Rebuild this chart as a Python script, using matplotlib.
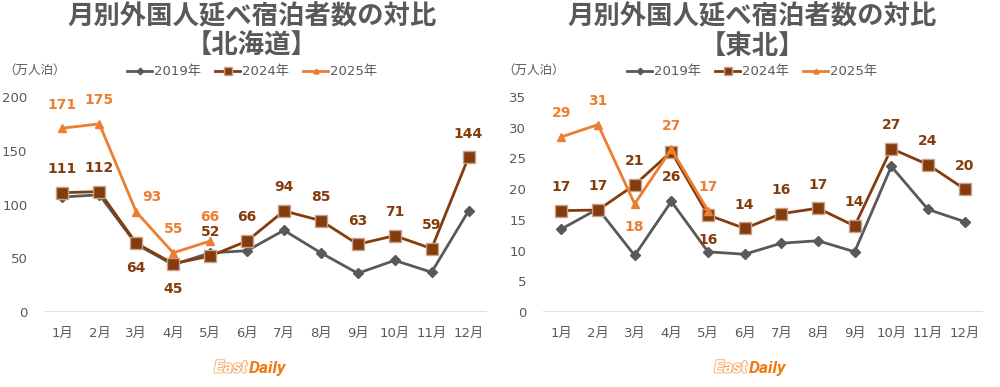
import matplotlib
matplotlib.use("Agg")
import matplotlib.pyplot as plt
import matplotlib.patheffects as pe
import math

months = ["1月", "2月", "3月", "4月", "5月", "6月", "7月", "8月", "9月", "10月", "11月", "12月"]
series_names = ["2019年", "2024年", "2025年"]

hk_2019 = [107, 109, 63, 44, 55, 57, 76, 55, 36, 48, 37, 94]
hk_2024 = [111, 112, 64, 45, 52, 66, 94, 85, 63, 71, 59, 144]
hk_2025 = [171, 175, 93, 55, 66]
hk_2024_label_pos = ["a", "a", "b", "b", "a", "a", "a", "a", "a", "a", "a", "a"]
hk_2025_label_pos = ["a", "a", "ar", "a", "a"]

th_2019 = [13.5, 16.8, 9.2, 18.0, 9.8, 9.4, 11.2, 11.6, 9.8, 23.7, 16.7, 14.7]
th_2024 = [16.5, 16.6, 20.7, 26.1, 15.8, 13.6, 16.0, 16.9, 14.0, 26.6, 24.0, 20.0]
th_2025 = [28.5, 30.5, 17.6, 26.5, 16.5]
th_2024_label_pos = ["a", "a", "a", "b", "b", "a", "a", "a", "a", "a", "a", "a"]
th_2025_label_pos = ["a", "a", "b", "a", "a"]

C19 = "#595959"
C24 = "#843C0C"
C25 = "#ED7D31"
GRAY = "#595959"
FAM = ["DejaVu Sans", "Noto Sans CJK JP"]

plt.rcParams["font.family"] = FAM

fig = plt.figure(figsize=(10, 3.87), dpi=100)


def fmt(v):
    return str(int(math.floor(v + 0.5)))


def draw(ax_rect, v19, v24, v25, pos24, pos25, ymax, ystep, title2, cx, logo_x):
    ax = fig.add_axes(ax_rect)
    x = list(range(len(months)))
    ax.plot(x, v19, color=C19, lw=2, marker="D", ms=5.5, mec=C19, label=series_names[0], zorder=3)
    ax.plot(x, v24, color=C24, lw=2, marker="s", ms=8.5, mec="#C9A28C", mew=1, label=series_names[1], zorder=4)
    ax.plot(x[:len(v25)], v25, color=C25, lw=2, marker="^", ms=6, mec=C25, label=series_names[2], zorder=5)
    ax.set_xlim(-0.5, 11.5)
    ax.set_ylim(0, ymax)
    ax.set_yticks(range(0, ymax + 1, ystep))
    ax.set_xticks(x)
    ax.set_xticklabels(months)
    for s in ax.spines.values():
        s.set_visible(False)
    ax.axhline(0, color="#D9D9D9", lw=1.2, zorder=1)
    ax.tick_params(axis="both", length=0, colors=GRAY, labelsize=9.5)
    ax.tick_params(axis="y", pad=12)
    ax.tick_params(axis="x", pad=11)
    for xi, (v, p) in enumerate(zip(v24, pos24)):
        dy = 17 if p.startswith("a") else -18
        ax.annotate(fmt(v), (xi, v), xytext=(0, dy),
                    textcoords="offset points", ha="center", va="center",
                    color=C24, fontsize=10, fontweight="bold", zorder=6)
    for xi, (v, p) in enumerate(zip(v25, pos25)):
        if p == "ar":
            dx, dy = 11, 11
        elif p == "a":
            dx, dy = 0, 17
        else:
            dx, dy = 0, -17
        ax.annotate(fmt(v), (xi, v), xytext=(dx, dy),
                    textcoords="offset points", ha="center", va="center",
                    color=C25, fontsize=10, fontweight="bold", zorder=6)
    # titles
    fig.text(cx, 1 - 17 / 387, "月別外国人延べ宿泊者数の対比", ha="center", va="center",
             fontsize=19, fontweight="bold", color=GRAY, family="Noto Sans CJK JP")
    fig.text(cx, 1 - 46 / 387, title2, ha="center", va="center",
             fontsize=19, fontweight="bold", color=GRAY, family="Noto Sans CJK JP")
    fig.text(ax_rect[0] - 41 / 1000, 1 - 70 / 387, "（万人泊）", ha="left", va="center",
             fontsize=9, color=GRAY, family="Noto Sans CJK JP")
    ax.legend(loc="center",
              bbox_to_anchor=((cx - ax_rect[0]) / ax_rect[2], (1 - 72 / 387 - ax_rect[1]) / ax_rect[3]),
              ncol=3, frameon=False, fontsize=9.5, handlelength=1.9, handletextpad=0.1,
              columnspacing=1.1, labelcolor=GRAY, markerscale=0.6)
    # logo
    fig.text(logo_x, 1 - 368 / 387, "East", ha="right", va="center", fontsize=12.5,
             fontweight="bold", style="italic", family="Roboto", color="white",
             path_effects=[pe.withStroke(linewidth=1.2, foreground="#F5A868")])
    fig.text(logo_x + 2 / 1000, 1 - 368 / 387, "Daily", ha="left", va="center", fontsize=12.5,
             fontweight="bold", style="italic", family="Roboto", color="#F07A10")
    return ax


bottom = 1 - 312 / 387
height = (312 - 97) / 387
draw([0.044, bottom, 0.443, height], hk_2019, hk_2024, hk_2025, hk_2024_label_pos, hk_2025_label_pos,
     200, 50, "【北海道】", 0.252, 0.247)
draw([0.543, bottom, 0.440, height], th_2019, th_2024, th_2025, th_2024_label_pos, th_2025_label_pos,
     35, 5, "【東北】", 0.752, 0.747)

fig.savefig("out.png", dpi=100)
